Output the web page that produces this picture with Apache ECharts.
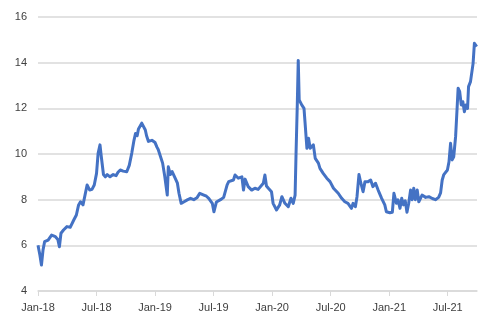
<!DOCTYPE html>
<html>
<head>
<meta charset="utf-8">
<script src="https://cdn.jsdelivr.net/npm/echarts@6/dist/echarts.min.js"></script>
<style>
html,body{margin:0;padding:0;background:#fff;}
#chart{width:494px;height:323px;}
</style>
</head>
<body>
<div id="chart"></div>
<script>
const dates = [
"2018-01-01","2018-01-07","2018-01-12","2018-01-17","2018-01-22","2018-02-02","2018-02-12","2018-02-23",
"2018-03-02","2018-03-07","2018-03-12","2018-03-20","2018-03-31","2018-04-10","2018-04-21","2018-04-29",
"2018-05-06","2018-05-12","2018-05-20","2018-05-25","2018-06-02","2018-06-10","2018-06-17","2018-06-24",
"2018-07-01","2018-07-06","2018-07-12","2018-07-16","2018-07-23","2018-07-29","2018-08-04","2018-08-13",
"2018-08-23","2018-09-01","2018-09-07","2018-09-14","2018-09-23","2018-10-04","2018-10-12","2018-10-20",
"2018-10-27","2018-11-01","2018-11-06","2018-11-10","2018-11-15","2018-11-20","2018-11-24","2018-12-01",
"2018-12-05","2018-12-11","2018-12-16","2018-12-22","2018-12-27","2019-01-01","2019-01-07","2019-01-11",
"2019-01-16","2019-01-25","2019-02-01","2019-02-08","2019-02-11","2019-02-17","2019-02-22","2019-03-01",
"2019-03-10","2019-03-15","2019-03-22","2019-03-30","2019-04-10","2019-04-20","2019-04-30","2019-05-11",
"2019-05-19","2019-06-01","2019-06-09","2019-06-16","2019-06-27","2019-07-02","2019-07-10","2019-07-23",
"2019-08-02","2019-08-13","2019-08-18","2019-08-23","2019-09-02","2019-09-07","2019-09-17","2019-09-22",
"2019-09-28","2019-10-03","2019-10-08","2019-10-18","2019-10-29","2019-11-08","2019-11-18","2019-11-24",
"2019-12-04","2019-12-09","2019-12-14","2019-12-20","2019-12-30","2020-01-04","2020-01-15","2020-01-25",
"2020-02-01","2020-02-10","2020-02-20","2020-02-28","2020-03-06","2020-03-12","2020-03-15","2020-03-19",
"2020-03-22","2020-03-25","2020-04-02","2020-04-09","2020-04-12","2020-04-18","2020-04-23","2020-04-28",
"2020-05-08","2020-05-14","2020-05-24","2020-05-29","2020-06-08","2020-06-14","2020-06-19","2020-06-24",
"2020-06-29","2020-07-05","2020-07-10","2020-07-15","2020-07-25","2020-08-05","2020-08-15","2020-08-25",
"2020-09-05","2020-09-10","2020-09-17","2020-09-22","2020-09-28","2020-10-04","2020-10-11","2020-10-17",
"2020-10-27","2020-11-04","2020-11-11","2020-11-19","2020-11-27","2020-12-08","2020-12-18","2020-12-23",
"2021-01-03","2021-01-11","2021-01-16","2021-01-24","2021-01-29","2021-02-04","2021-02-09","2021-02-14",
"2021-02-19","2021-02-24","2021-03-01","2021-03-07","2021-03-12","2021-03-17","2021-03-22","2021-03-28",
"2021-04-02","2021-04-12","2021-04-23","2021-05-03","2021-05-14","2021-05-24","2021-06-03","2021-06-09",
"2021-06-14","2021-06-19","2021-06-30","2021-07-05","2021-07-10","2021-07-15","2021-07-20","2021-07-26",
"2021-07-31","2021-08-03","2021-08-08","2021-08-13","2021-08-18","2021-08-23","2021-08-28","2021-09-02",
"2021-09-05","2021-09-11","2021-09-16","2021-09-19","2021-09-23","2021-09-26","2021-09-30"
];
// Series values
const values = [
6.0,5.58,5.14,5.8,6.16,6.23,6.45,6.38,
6.26,5.94,6.53,6.67,6.82,6.79,7.11,7.33,
7.77,7.91,7.77,7.84,8.64,8.42,8.45,8.64,
9.15,10.03,10.4,9.9,9.1,9.0,9.1,9.0,
9.1,9.05,9.2,9.3,9.25,9.22,9.5,10.04,
10.6,10.9,10.8,11.1,11.15,11.35,11.3,11.05,
10.8,10.55,10.5,10.6,10.65,10.5,10.3,10.2,
10.18,9.6,9.0,8.2,9.44,9.1,9.23,9.0,
8.72,8.28,7.84,7.9,7.99,8.06,8.0,8.1,
8.28,8.2,8.15,8.06,7.84,7.47,7.9,8.0,
8.1,8.65,8.79,8.8,8.86,9.08,8.94,8.95,
9.0,8.42,8.9,8.57,8.42,8.5,8.45,8.42,
8.72,9.08,8.6,8.5,8.35,7.84,7.55,7.77,
8.13,7.84,7.69,8.06,7.84,8.2,10.03,12.2,
14.1,12.37,12.15,12.0,11.42,10.25,10.69,10.25,
10.4,9.81,9.6,9.37,9.15,9.08,8.94,8.86,
8.79,8.72,8.5,8.42,8.28,8.06,7.91,7.84,
7.62,7.84,7.69,8.13,9.1,8.72,8.35,8.79,
8.79,8.86,8.57,8.72,8.42,8.06,7.77,7.47,
7.43,7.45,8.28,7.84,7.99,7.62,8.06,7.77,
7.95,7.45,7.84,8.42,8.0,8.5,8.0,8.42,
7.91,8.2,8.1,8.13,8.05,8.0,8.1,8.3,
8.86,9.1,9.3,9.66,10.47,9.74,9.88,10.76,
12.07,12.88,12.73,12.15,12.29,11.85,12.15,12.0,
12.95,13.17,13.1,13.97,14.85,14.92,14.7
];
// Tick labels
const monthNames = ["Jan","Feb","Mar","Apr","May","Jun","Jul","Aug","Sep","Oct","Nov","Dec"];
const yTicks = [4, 6, 8, 10, 12, 14, 16];

function monthIndex(s) {
  const p = s.split("-").map(Number);
  const dim = new Date(p[0], p[1], 0).getDate();
  return (p[0] - 2018) * 12 + (p[1] - 1) + (p[2] - 1) / dim;
}
function monthLabel(m) {
  const y = 2018 + Math.floor(m / 12);
  return monthNames[m % 12] + "-" + String(y).slice(2);
}
const data = dates.map((d, i) => [monthIndex(d), values[i]]);
const xTickVals = [0, 6, 12, 18, 24, 30, 36, 42];

const chart = echarts.init(document.getElementById("chart"), null, {renderer: "canvas"});
const font = {fontFamily: "Liberation Sans", fontSize: 11, color: "#404040"};
chart.setOption({
  animation: false,
  backgroundColor: "#ffffff",
  grid: {left: 38, right: 17, top: 17, bottom: 32, containLabel: false},
  xAxis: {
    type: "value",
    min: 0, max: 45, interval: 6,
    axisLine: {show: true, lineStyle: {color: "#d9d9d9", width: 1.5}},
    axisTick: {show: true, length: 5, lineStyle: {color: "#d9d9d9", width: 1}, customValues: xTickVals},
    splitLine: {show: false},
    axisLabel: Object.assign({
      margin: 11,
      customValues: xTickVals,
      formatter: function (v) { return (v % 6 === 0 && v <= 42) ? monthLabel(v) : ""; }
    }, font)
  },
  yAxis: {
    type: "value",
    min: yTicks[0], max: yTicks[yTicks.length - 1], interval: 2,
    axisLine: {show: false},
    axisTick: {show: false},
    splitLine: {show: true, lineStyle: {color: "#d9d9d9", width: 1.5}},
    axisLabel: Object.assign({margin: 11}, font)
  },
  series: [{
    type: "line",
    data: data,
    showSymbol: false,
    symbol: "none",
    lineStyle: {color: "#4472C4", width: 3, join: "round"},
    itemStyle: {color: "#4472C4"}
  }]
});
</script>
</body>
</html>
